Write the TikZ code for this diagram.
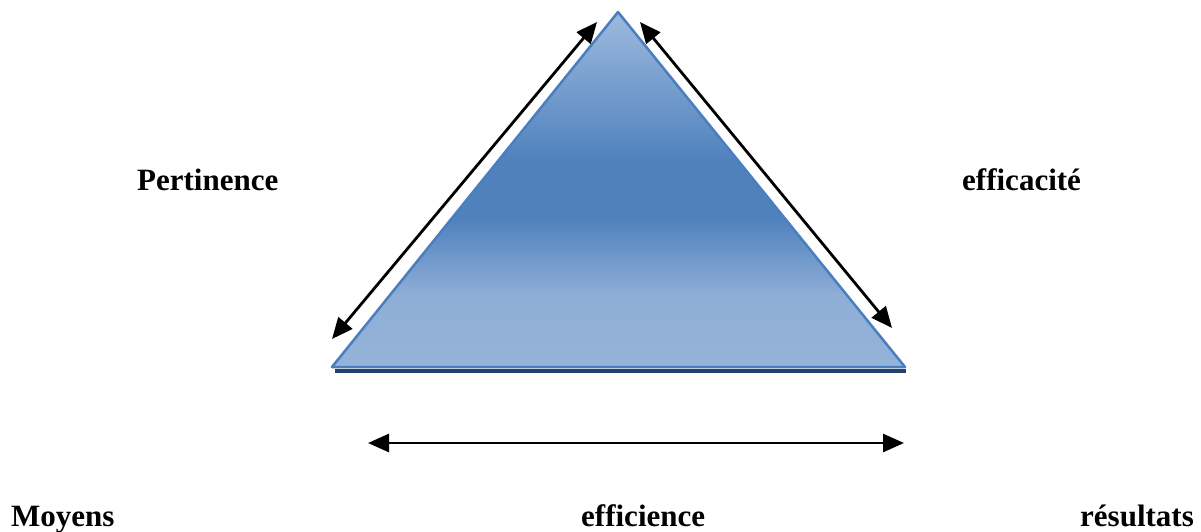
\documentclass[tikz,border=0pt]{standalone}
\usepackage{fontspec}
\setmainfont{Liberation Serif}
\usetikzlibrary{arrows.meta}
\definecolor{triTop}{HTML}{9DBADE}
\definecolor{triMid}{HTML}{4F81BD}
\definecolor{triLow}{HTML}{8FAED7}
\definecolor{triBot}{HTML}{95B3D8}
\definecolor{triEdge}{HTML}{4A7EBF}
\definecolor{triShadow}{HTML}{24426E}
\pgfdeclareverticalshading{trishade}{100bp}{color(0bp)=(triBot); color(25bp)=(triBot); color(35bp)=(triLow); color(46bp)=(triMid); color(54bp)=(triMid); color(75bp)=(triTop); color(100bp)=(triTop)}
\tikzset{
  lbl/.style={anchor=base west, inner sep=0pt, font=\fontsize{31}{37}\selectfont\bfseries},
  dblarrow/.style={line width=2.8pt, {Triangle[length=21pt,width=18pt]}-{Triangle[length=21pt,width=18pt]}},
}
\begin{document}
\begin{tikzpicture}[x=1pt,y=-1pt]
\useasboundingbox (0,0) rectangle (1201,531);
\coordinate (A) at (618,12);
\coordinate (B) at (332,367);
\coordinate (C) at (905,367);
\draw[triShadow, line width=4pt] (335,371) -- (906,371);
\shade[shading=trishade] (A) -- (B) -- (C) -- cycle;
\draw[triEdge, line width=2.5pt, line join=round] (A) -- (B) -- (C) -- cycle;
\coordinate (l1) at (597,22);
\coordinate (l2) at (332,339);
\coordinate (r1) at (640,22);
\coordinate (r2) at (892,328);
\coordinate (b1) at (368,443);
\coordinate (b2) at (904,443);
\draw[dblarrow] (l1) -- (l2);
\draw[dblarrow] (r1) -- (r2);
\draw[dblarrow] (b1) -- (b2);
\node[lbl] (pert) at (137,190) {Pertinence};
\node[lbl] (effic) at (962,190) {efficacité};
\node[lbl] (moy) at (11,526) {Moyens};
\node[lbl] (effi) at (581,526) {efficience};
\node[lbl] (res) at (1080,526) {résultats};
\end{tikzpicture}
\end{document}
